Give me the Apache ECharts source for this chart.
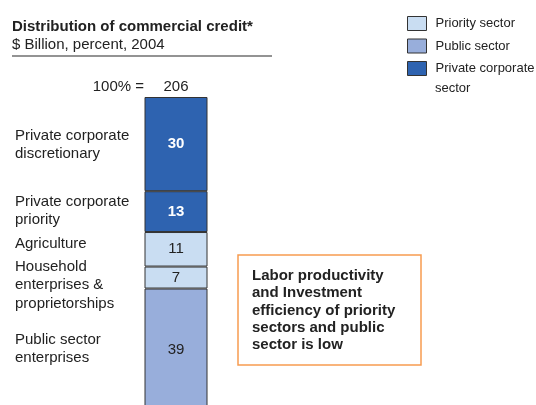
<!DOCTYPE html>
<html>
<head>
<meta charset="utf-8">
<script src="https://cdn.jsdelivr.net/npm/echarts@6/dist/echarts.min.js"></script>
<style>
html,body{margin:0;padding:0;background:#fff;}
#chart{width:536px;height:405px;}
</style>
</head>
<body>
<div id="chart"></div>
<script>
// ---- data ----
var categories = ['Commercial credit 2004'];
var segmentNames = ['Public sector enterprises', 'Household enterprises & proprietorships', 'Agriculture', 'Private corporate priority', 'Private corporate discretionary'];
var segmentValues = [39, 7, 11, 13, 30];
var segmentSectors = ['Public sector', 'Priority sector', 'Priority sector', 'Private corporate sector', 'Private corporate sector'];
var sectorNames = ['Priority sector', 'Public sector', 'Private corporate sector'];
var totalLabel = '206';
var leftLabels = ['Private corporate\ndiscretionary', 'Private corporate\npriority', 'Agriculture', 'Household\nenterprises &\nproprietorships', 'Public sector\nenterprises'];

var FONT = '"Liberation Sans", Arial, sans-serif';
var sectorColors = {
  'Priority sector': '#c9ddf2',
  'Public sector': '#98aedb',
  'Private corporate sector': '#2e63b0'
};
var darkSector = {'Private corporate sector': true};

var chart = echarts.init(document.getElementById('chart'), null, {renderer: 'canvas'});

var series = segmentValues.map(function (v, i) {
  var sec = segmentSectors[i];
  return {
    type: 'bar',
    name: sec,
    stack: 'total',
    barWidth: 63,
    clip: false,
    data: [v],
    itemStyle: {color: sectorColors[sec], borderColor: '#333333', borderWidth: 1},
    label: {
      show: true,
      position: 'inside',
      fontFamily: FONT,
      fontSize: 15,
      fontWeight: darkSector[sec] ? 'bold' : 'normal',
      color: darkSector[sec] ? '#ffffff' : '#222222'
    },
    emphasis: {disabled: true}
  };
});

// left-label vertical centres (px)
var leftLabelY = [145, 211, 244, 285, 349];

var graphics = [
  {type: 'line', shape: {x1: 12, y1: 56, x2: 272, y2: 56}, style: {stroke: '#6f6f6f', lineWidth: 1.5}},
  {type: 'text', x: 144, y: 87, style: {text: '100% =', font: '15px ' + FONT, fill: '#222', align: 'right', verticalAlign: 'middle'}},
  {type: 'text', x: 176, y: 87, style: {text: totalLabel, font: '15px ' + FONT, fill: '#222', align: 'center', verticalAlign: 'middle'}},
  {type: 'rect', shape: {x: 238, y: 255, width: 183, height: 110}, style: {fill: 'none', stroke: '#f79c50', lineWidth: 1.5}},
  {type: 'text', x: 252, y: 267, style: {text: 'Labor productivity\nand Investment\nefficiency of priority\nsectors and public\nsector is low', font: 'bold 15px ' + FONT, fill: '#222', lineHeight: 17.4, verticalAlign: 'top'}},
  {type: 'text', x: 435, y: 88, style: {text: 'sector', font: '13px ' + FONT, fill: '#222', verticalAlign: 'middle'}}
];
leftLabels.forEach(function (t, i) {
  graphics.push({type: 'text', x: 15, y: leftLabelY[i],
    style: {text: t, font: '15px ' + FONT, fill: '#222', lineHeight: 18.5, verticalAlign: 'middle'}});
});

chart.setOption({
  animation: false,
  backgroundColor: '#fff',
  title: {
    text: 'Distribution of commercial credit*',
    subtext: '$ Billion, percent, 2004',
    left: 12, top: 18, padding: 0, itemGap: 1,
    textStyle: {fontFamily: FONT, fontSize: 15, fontWeight: 'bold', color: '#222', lineHeight: 17},
    subtextStyle: {fontFamily: FONT, fontSize: 15, color: '#222', lineHeight: 17}
  },
  legend: {
    orient: 'vertical',
    left: 407, top: 15,
    itemWidth: 19, itemHeight: 14,
    itemGap: 5.5,
    padding: 0,
    icon: 'rect',
    selectedMode: false,
    formatter: function (name) { return name === 'Private corporate sector' ? 'Private corporate' : name; },
    textStyle: {fontFamily: FONT, fontSize: 13, color: '#222', lineHeight: 17, padding: [0, 0, 0, 4]},
    itemStyle: {borderColor: '#333', borderWidth: 1},
    data: sectorNames
  },
  grid: {left: 144, top: 97, width: 64, height: 314, outerBoundsMode: 'none'},
  xAxis: {type: 'category', data: categories, show: false},
  yAxis: {type: 'value', min: 0, max: 100, show: false},
  series: series,
  graphic: graphics
});
</script>
</body>
</html>
